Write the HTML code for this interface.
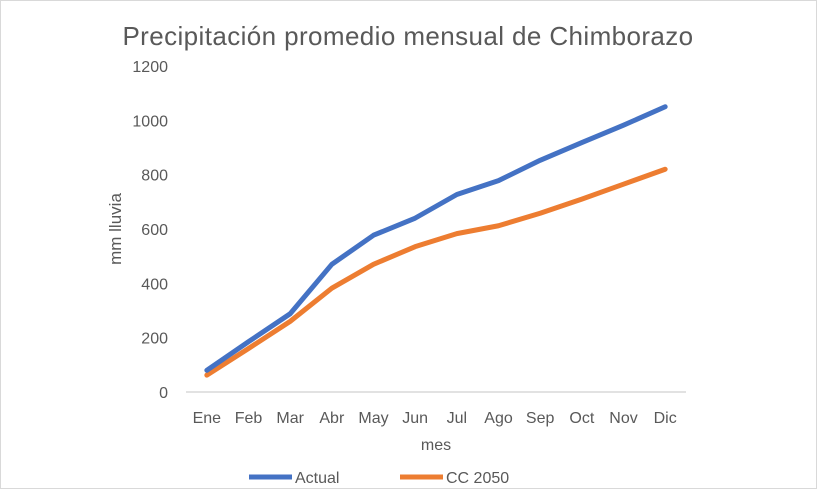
<!DOCTYPE html>
<html><head><meta charset="utf-8"><style>
body{margin:0;background:#fff;}
svg text{font-family:"Liberation Sans",sans-serif;fill:#595959;}
</style></head><body>
<svg width="817" height="489">
<rect x="0.5" y="0.5" width="816" height="488" fill="#fff" stroke="#d9d9d9"/>
<text x="408" y="45" font-size="26" letter-spacing="0.4" text-anchor="middle">Precipitación promedio mensual de Chimborazo</text>
<text transform="translate(121,229) rotate(-90)" font-size="17" text-anchor="middle">mm lluvia</text>
<text x="436" y="450" font-size="16" text-anchor="middle">mes</text>
<g id="axes"></g>
<g id="series"></g>
<g>
<line x1="249" y1="477" x2="292" y2="477" stroke="#4472C4" stroke-width="5"/>
<text x="295" y="483" font-size="16">Actual</text>
<line x1="400" y1="477" x2="443" y2="477" stroke="#ED7D31" stroke-width="5"/>
<text x="446" y="483" font-size="16">CC 2050</text>
</g>
</svg>
<script>
const months=["Ene","Feb","Mar","Abr","May","Jun","Jul","Ago","Sep","Oct","Nov","Dic"];
const actual=[80,185,288,470,577,640,727,778,853,918,982,1050];
const cc2050=[62,160,260,382,470,535,583,612,658,710,765,820];
const yTicks=[0,200,400,600,800,1000,1200];
const NS="http://www.w3.org/2000/svg";
const x0=186,x1=686,y0=392,y1=66,yMax=1200;
const band=(x1-x0)/months.length;
const xs=i=>x0+band*(i+0.5);
const ys=v=>y0-(v/yMax)*(y0-y1);
const axes=document.getElementById('axes');
const ser=document.getElementById('series');
function mk(tag,attrs,parent){const e=document.createElementNS(NS,tag);for(const k in attrs)e.setAttribute(k,attrs[k]);parent.appendChild(e);return e;}
const base=mk('line',{x1:x0,x2:x1,y1:y0,y2:y0,stroke:'#d9d9d9','stroke-width':1.5},axes);


yTicks.forEach(v=>{
  const t=mk('text',{x:168,y:ys(v)+6,'font-size':16,'text-anchor':'end'},axes);
  t.textContent=v;
  
  
});
months.forEach((m,i)=>{
  const t=mk('text',{x:xs(i),y:423,'font-size':16,'text-anchor':'middle'},axes);
  t.textContent=m;
  
  
});
function line(data,color,name){
  const p=mk('polyline',{points:data.map((v,i)=>xs(i)+','+ys(v)).join(' '),fill:'none',stroke:color,'stroke-width':5,'stroke-linejoin':'round','stroke-linecap':'round'},ser);
  
  
}
line(cc2050,'#ED7D31','series-cc2050-line');
line(actual,'#4472C4','series-actual-line');
</script>
</body></html>
